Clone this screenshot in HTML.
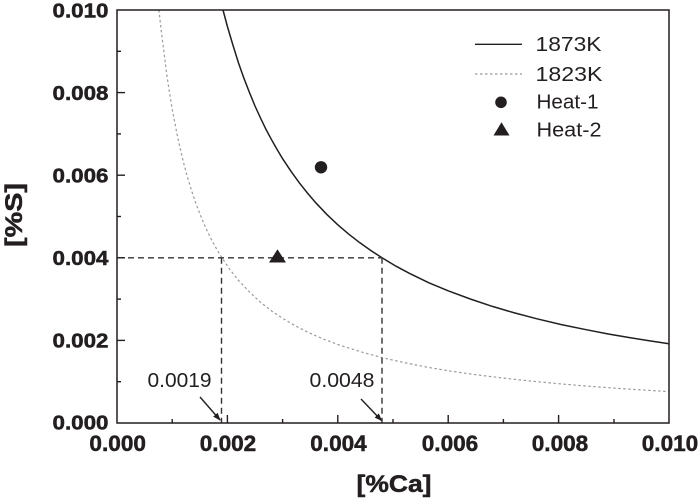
<!DOCTYPE html>
<html><head><meta charset="utf-8"><style>
html,body{margin:0;padding:0;background:#fff;}
svg{display:block;font-family:"Liberation Sans",Arial,sans-serif;}
</style></head><body>
<svg width="700" height="500" viewBox="0 0 700 500" xmlns="http://www.w3.org/2000/svg">
<defs>
<marker id="ah" markerWidth="8" markerHeight="6" refX="7" refY="3" orient="auto" markerUnits="userSpaceOnUse">
<path d="M0,0 L8,3 L0,6 z" fill="#231f20"/>
</marker>
</defs>
<rect width="700" height="500" fill="#fff"/>
<!-- curves -->
<polyline fill="none" stroke="#231f20" stroke-width="1.5" points="223.0,10.0 227.4,26.5 232.9,45.0 238.4,62.6 243.9,78.2 249.5,92.6 255.0,106.0 260.5,118.0 266.0,129.4 271.6,139.8 277.1,149.5 282.6,158.7 291.0,171.3 299.2,182.7 307.5,193.1 315.7,202.7 326.7,214.3 337.8,224.8 348.8,234.2 359.9,242.8 371.0,250.6 382.0,257.8 395.8,266.1 409.6,273.4 428.9,282.8 448.2,290.8 470.3,299.0 492.4,306.4 514.5,312.9 536.5,318.7 561.4,324.6 586.2,329.7 608.3,334.0 630.4,337.7 650.0,340.9 669,343.7"/>
<polyline fill="none" stroke="#9a9a9a" stroke-width="1.2" stroke-dasharray="2.5,2.5" points="158.95,10.0 161.2,30.6 164.0,52.4 166.7,74.2 169.5,92.5 172.2,109.1 177.7,137.7 183.2,161.4 187.3,176.5 191.5,190.5 195.6,202.6 199.8,213.7 205.3,227.0 210.8,238.4 216.4,248.6 221.9,257.8 230.1,269.8 238.4,280.3 249.5,292.0 260.5,302.3 271.6,311.0 282.6,318.4 296.4,326.4 310.2,333.3 324.0,339.3 337.8,344.5 360.0,351.6 382.0,357.6 404.0,362.6 426.1,367.0 451.0,371.2 475.8,374.7 503.4,378.1 531.0,381.1 564.0,384.2 597.2,386.9 633.0,389.4 669,391.6"/>
<!-- dashed guides -->
<g stroke="#333" stroke-width="1.4" stroke-dasharray="6,4" fill="none">
<line x1="118" y1="257.8" x2="382" y2="257.8"/>
<line x1="221.5" y1="257.8" x2="221.5" y2="423"/>
<line x1="382" y1="257.8" x2="382" y2="423"/>
</g>
<!-- points -->
<circle cx="321" cy="167.3" r="6.2" fill="#231f20"/>
<polygon points="277.5,249.3 286,262.5 269,262.5" fill="#231f20"/>
<!-- axes box -->
<rect x="117" y="10" width="552" height="413" fill="none" stroke="#231f20" stroke-width="1.5"/>
<!-- ticks -->
<g stroke="#231f20" stroke-width="1.4">
<line x1="227.4" y1="423" x2="227.4" y2="415"/>
<line x1="337.8" y1="423" x2="337.8" y2="415"/>
<line x1="448.2" y1="423" x2="448.2" y2="415"/>
<line x1="558.6" y1="423" x2="558.6" y2="415"/>
<line x1="172.2" y1="423" x2="172.2" y2="419"/>
<line x1="282.6" y1="423" x2="282.6" y2="419"/>
<line x1="393" y1="423" x2="393" y2="419"/>
<line x1="503.4" y1="423" x2="503.4" y2="419"/>
<line x1="614" y1="423" x2="614" y2="419"/>
<line x1="117" y1="92.6" x2="125" y2="92.6"/>
<line x1="117" y1="175.2" x2="125" y2="175.2"/>
<line x1="117" y1="257.8" x2="125" y2="257.8"/>
<line x1="117" y1="340.4" x2="125" y2="340.4"/>
<line x1="117" y1="51.3" x2="121" y2="51.3"/>
<line x1="117" y1="133.9" x2="121" y2="133.9"/>
<line x1="117" y1="216.5" x2="121" y2="216.5"/>
<line x1="117" y1="299.1" x2="121" y2="299.1"/>
<line x1="117" y1="381.7" x2="121" y2="381.7"/>
</g>
<!-- y tick labels -->
<g font-size="20.5" font-weight="bold" fill="#231f20" stroke="#231f20" stroke-width="0.5" text-anchor="end">
<text x="108.5" y="17.3" textLength="56" lengthAdjust="spacingAndGlyphs">0.010</text>
<text x="108.5" y="99.9" textLength="56" lengthAdjust="spacingAndGlyphs">0.008</text>
<text x="108.5" y="182.5" textLength="56" lengthAdjust="spacingAndGlyphs">0.006</text>
<text x="108.5" y="265.1" textLength="56" lengthAdjust="spacingAndGlyphs">0.004</text>
<text x="108.5" y="347.7" textLength="56" lengthAdjust="spacingAndGlyphs">0.002</text>
<text x="108.5" y="429.3" textLength="56" lengthAdjust="spacingAndGlyphs">0.000</text>
</g>
<!-- x tick labels -->
<g font-size="22" font-weight="bold" fill="#231f20" stroke="#231f20" stroke-width="0.5" text-anchor="middle">
<text x="117.7" y="451" textLength="56.5" lengthAdjust="spacingAndGlyphs">0.000</text>
<text x="228" y="451" textLength="56.5" lengthAdjust="spacingAndGlyphs">0.002</text>
<text x="338.5" y="451" textLength="56.5" lengthAdjust="spacingAndGlyphs">0.004</text>
<text x="450" y="451" textLength="56.5" lengthAdjust="spacingAndGlyphs">0.006</text>
<text x="560" y="451" textLength="56.5" lengthAdjust="spacingAndGlyphs">0.008</text>
<text x="670" y="451" textLength="56.5" lengthAdjust="spacingAndGlyphs">0.010</text>
</g>
<!-- axis titles -->
<text x="394" y="492" font-size="24" font-weight="bold" fill="#231f20" stroke="#231f20" stroke-width="0.5" text-anchor="middle" textLength="75" lengthAdjust="spacingAndGlyphs">[%Ca]</text>
<text transform="translate(22,215) rotate(-90)" x="0" y="0" font-size="24" font-weight="bold" fill="#231f20" stroke="#231f20" stroke-width="0.5" text-anchor="middle" textLength="64" lengthAdjust="spacingAndGlyphs">[%S]</text>
<!-- annotations -->
<g font-size="20" fill="#231f20">
<text x="147.5" y="387" textLength="64" lengthAdjust="spacingAndGlyphs">0.0019</text>
<text x="309.5" y="387" textLength="65" lengthAdjust="spacingAndGlyphs">0.0048</text>
</g>
<g stroke="#231f20" stroke-width="1.4">
<line x1="200" y1="397" x2="220" y2="420" marker-end="url(#ah)"/>
<line x1="361" y1="399" x2="381.5" y2="420.5" marker-end="url(#ah)"/>
</g>
<!-- legend -->
<line x1="475" y1="44.3" x2="522" y2="44.3" stroke="#231f20" stroke-width="1.3"/>
<line x1="475" y1="74" x2="522" y2="74" stroke="#9a9a9a" stroke-width="1.2" stroke-dasharray="2.5,2.5"/>
<circle cx="501" cy="102.3" r="5.8" fill="#231f20"/>
<polygon points="501.5,122.3 509.5,135.5 493.5,135.5" fill="#231f20"/>
<g font-size="20" fill="#231f20">
<text x="535.5" y="51" textLength="66" lengthAdjust="spacingAndGlyphs">1873K</text>
<text x="535.5" y="81" textLength="67" lengthAdjust="spacingAndGlyphs">1823K</text>
<text x="536.5" y="108.5" textLength="62" lengthAdjust="spacingAndGlyphs">Heat-1</text>
<text x="536.5" y="136.7" textLength="65" lengthAdjust="spacingAndGlyphs">Heat-2</text>
</g>
</svg>
</body></html>
